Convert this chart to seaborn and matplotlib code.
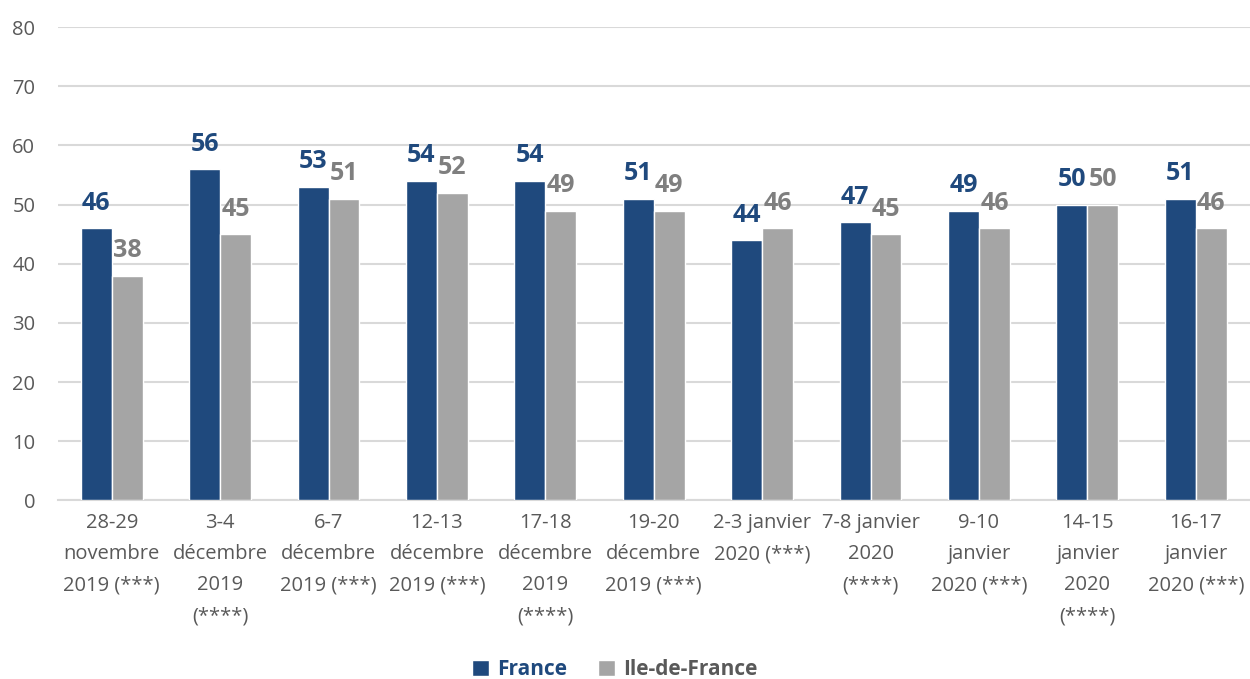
import pandas as pd
import matplotlib.pyplot as plt
import seaborn as sns

# Data
periodes = [
    "28-29\nnovembre\n2019 (***)",
    "3-4\ndécembre\n2019\n(****)",
    "6-7\ndécembre\n2019 (***)",
    "12-13\ndécembre\n2019 (***)",
    "17-18\ndécembre\n2019\n(****)",
    "19-20\ndécembre\n2019 (***)",
    "2-3 janvier\n2020 (***)",
    "7-8 janvier\n2020\n(****)",
    "9-10\njanvier\n2020 (***)",
    "14-15\njanvier\n2020\n(****)",
    "16-17\njanvier\n2020 (***)",
]
france = [46, 56, 53, 54, 54, 51, 44, 47, 49, 50, 51]
idf = [38, 45, 51, 52, 49, 49, 46, 45, 46, 50, 46]

df = pd.DataFrame({
    "periode": periodes * 2,
    "valeur": france + idf,
    "zone": ["France"] * len(periodes) + ["Ile-de-France"] * len(periodes),
})

sns.set_style("white")
plt.rcParams["font.family"] = ["Open Sans", "DejaVu Sans"]

palette = {"France": "#1F497D", "Ile-de-France": "#A5A5A5"}
label_colors = {"France": "#1F497D", "Ile-de-France": "#7F7F7F"}

fig, ax = plt.subplots(figsize=(12.5, 6.79), dpi=100)
fig.subplots_adjust(left=0.046, right=1.0, top=0.96, bottom=0.263)

sns.barplot(data=df, x="periode", y="valeur", hue="zone", palette=palette,
            width=0.57, ax=ax, saturation=1, zorder=3)

# Value labels
for container, zone in zip(ax.containers, ["France", "Ile-de-France"]):
    ax.bar_label(container, fmt="%d", padding=9, fontsize=18, fontweight="bold",
                 color=label_colors[zone], zorder=4)

ax.set_ylim(0, 80)
ax.set_yticks(range(0, 81, 10))
ax.set_xlim(-0.5, len(periodes) - 0.5)
ax.yaxis.grid(True, color="#D9D9D9", linewidth=1.5, zorder=0)
ax.set_axisbelow(True)
for s in ["top", "right", "left"]:
    ax.spines[s].set_visible(False)
ax.spines["bottom"].set_color("#D9D9D9")
ax.spines["bottom"].set_linewidth(1.5)
ax.tick_params(axis="both", length=0, colors="#595959", labelsize=14.5)
ax.tick_params(axis="y", pad=16)
ax.tick_params(axis="x", pad=9)
ax.set_xlabel("")
ax.set_ylabel("")
for lbl in ax.get_xticklabels():
    lbl.set_linespacing(1.75)

ax.legend_.remove()
handles, labels = ax.get_legend_handles_labels()
leg = fig.legend(handles, labels, loc="center", bbox_to_anchor=(0.492, 0.014), ncol=2,
                 frameon=False, fontsize=15, handlelength=0.8, handleheight=0.8,
                 columnspacing=1.5, handletextpad=0.4)
for t, zone in zip(leg.get_texts(), ["France", "Ile-de-France"]):
    t.set_fontweight("bold")
    t.set_color("#1F497D" if zone == "France" else "#595959")

plt.savefig("out.png", dpi=100)
